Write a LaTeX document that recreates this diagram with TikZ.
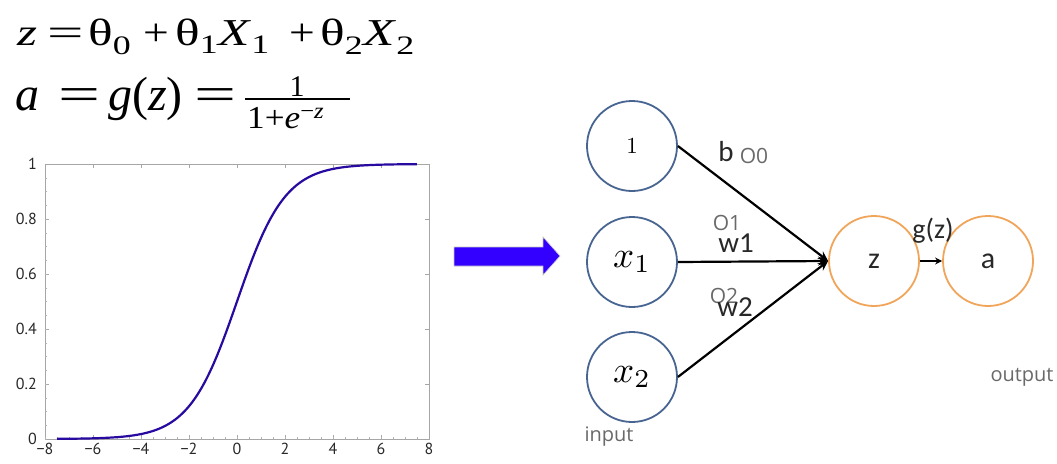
\documentclass[tikz,border=0pt]{standalone}
\usepackage{fontspec}
\usetikzlibrary{arrows.meta}
\newfontfamily\tnr{Liberation Serif}
\newfontfamily\carl{Carlito}
\newfontfamily\osans{Open Sans}
\newfontfamily\ptsans{PT Sans}
\definecolor{nodeblue}{RGB}{72,100,145}
\definecolor{nodeorange}{RGB}{240,165,90}
\definecolor{curveblue}{RGB}{40,10,160}
\definecolor{arrowblue}{RGB}{51,0,255}
\definecolor{labgray}{RGB}{105,105,105}
\definecolor{darktext}{RGB}{40,40,40}
\begin{document}
\begin{tikzpicture}[x=1pt,y=-1pt,
  inp/.style={circle,draw=nodeblue,line width=1.8pt,minimum size=90pt,inner sep=0pt,font=\fontsize{10}{10}\selectfont},
  outp/.style={circle,draw=nodeorange,line width=1.8pt,minimum size=90pt,inner sep=0pt,font=\carl\fontsize{30}{30}\selectfont,text=darktext},
  conn/.style={line width=2.2pt,-{Stealth[length=10pt,width=9pt]}},
  wlab/.style={font=\carl\fontsize{29}{29}\selectfont,text=darktext,inner sep=0pt},
  olab/.style={font=\osans\fontsize{21}{21}\selectfont,text=labgray,inner sep=0pt},
  ticklab/.style={font=\ptsans\fontsize{16}{16}\selectfont,text=darktext,inner sep=0pt},
  plotframe/.style={draw=gray!70,line width=0.8pt},
  eqa/.style={font=\tnr\fontsize{38}{38}\selectfont,inner sep=0pt,anchor=base west},
  eqb/.style={font=\tnr\fontsize{48}{48}\selectfont,inner sep=0pt,anchor=base west}
]
\useasboundingbox (0,0) rectangle (1057,463);

% equation 1
\node[eqa] (e1z) at (17,45) {\scalebox{1.35}[1]{\textit{z}}};
\node[eqa,anchor=base] (e1eq) at (66,45) {\scalebox{1.7}[1]{=}};
\node[eqa] (e1t0) at (88,45) {\scalebox{1.35}[1]{θ\textsubscript{0}}};
\node[eqa,anchor=base] (e1p1) at (156,45) {\scalebox{1.2}[1]{+}};
\node[eqa] (e1t1) at (175,45) {\scalebox{1.35}[1]{θ\textsubscript{1}\textit{X}\textsubscript{1}}};
\node[eqa,anchor=base] (e1p2) at (302,45) {\scalebox{1.2}[1]{+}};
\node[eqa] (e1t2) at (320,45) {\scalebox{1.35}[1]{θ\textsubscript{2}\textit{X}\textsubscript{2}}};

% equation 2
\node[eqb] (e2a) at (15,110) {\textit{a}};
\node[eqb,anchor=base] (e2eq1) at (79,110) {\scalebox{1.55}[1]{=}};
\node[eqb] (e2g) at (108,110) {\textit{g}(\textit{z})};
\node[eqb,anchor=base] (e2eq2) at (215,110) {\scalebox{1.55}[1]{=}};
\node[font=\tnr\fontsize{30}{30}\selectfont,inner sep=0pt,anchor=base] (num) at (297,96) {1};
\draw[line width=1.4pt] (245,99) -- (350,99);
\node[font=\tnr\fontsize{32}{32}\selectfont,inner sep=0pt,anchor=base west] (den) at (247,128) {\scalebox{1.1}[1]{1+\textit{e}\textsuperscript{−\textit{z}}}};

% sigmoid plot
\draw[plotframe] (45,164) rectangle (429,439);
\foreach \i in {0,...,8} {
  \draw[gray!70,line width=0.6pt] ({45+48*\i},439) -- ({45+48*\i},435);
  \draw[gray!70,line width=0.6pt] ({45+48*\i},164) -- ({45+48*\i},168);
}
\foreach \i in {0,...,31} {
  \draw[gray!60,line width=0.4pt] ({45+12*\i},439) -- ({45+12*\i},437);
}
\foreach \i in {0,...,5} {
  \draw[gray!70,line width=0.6pt] (45,{439-55*\i}) -- (49,{439-55*\i});
  \draw[gray!70,line width=0.6pt] (429,{439-55*\i}) -- (425,{439-55*\i});
}
\foreach \i in {0,...,19} {
  \draw[gray!60,line width=0.4pt] (45,{439-13.75*\i}) -- (47,{439-13.75*\i});
}
\foreach \v [count=\i from 0] in {−8,−6,−4,−2,0,2,4,6,8}
  \node[ticklab,anchor=north] (xl\i) at ({45+48*\i},443) {\v};
\foreach \v [count=\i from 0] in {0,0.2,0.4,0.6,0.8,1}
  \node[ticklab,anchor=east] (yl\i) at (37,{439-55*\i}) {\v};
\draw[curveblue,line width=2.2pt] plot[domain=-7.5:7.5,samples=150,smooth] ({237+24*\x},{439-275/(1+exp(-\x))});

% big arrow
\fill[arrowblue,draw=gray!45,line width=0.6pt] (454,247) -- (543,247) -- (543,237) -- (560,256) -- (543,275) -- (543,266) -- (454,266) -- cycle;

% network
\node[inp] (one) at (632,146) {\scalebox{2.3}{1}};
\node[inp] (x1) at (632,262) {\scalebox{3.7}{$x_1$}};
\node[inp] (x2) at (632,377) {\scalebox{3.7}{$x_2$}};
\node[outp] (z) at (874,261) {z};
\node[outp] (a) at (988,261) {a};

\draw[conn] (one.east) -- (z.west);
\draw[conn] (x1.east) -- (z.west);
\draw[conn] (x2.east) -- (z.west);
\draw[line width=1.8pt,-{Stealth[length=7pt,width=7pt]}] (z.east) -- (a.west);

\node[wlab] (lb) at (726,152) {b};
\node[olab] (lo0) at (754,156) {O0};
\node[olab] (lo1) at (727,223) {O1};
\node[wlab] (lw1) at (736,243) {w1};
\node[olab] (lo2) at (724,296) {O2};
\node[wlab] (lw2) at (735,307) {w2};
\node[wlab,font=\carl\fontsize{28}{28}\selectfont] (lg) at (933,231) {g(z)};
\node[olab,font=\osans\fontsize{20}{20}\selectfont] (lin) at (609,437) {input};
\node[olab,font=\osans\fontsize{20}{20}\selectfont] (lout) at (1022,377) {output};
\end{tikzpicture}
\end{document}
